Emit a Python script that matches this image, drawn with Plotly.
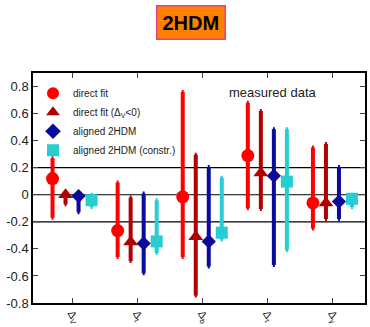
import plotly.graph_objects as go

categories = ["Δ<sub>V</sub>", "Δ<sub>t</sub>", "Δ<sub>b</sub>", "Δ<sub>τ</sub>", "Δ<sub>γ</sub>"]

series_names = ["direct fit", "direct fit (Δ<sub>V</sub><0)", "aligned 2HDM", "aligned 2HDM (constr.)"]

direct_val = [0.12, -0.265, -0.015, 0.29, -0.06]
direct_hi = [0.27, 0.09, 0.76, 0.68, 0.35]
direct_lo = [-0.17, -0.46, -0.46, -0.10, -0.25]

neg_val = [0.0, -0.35, -0.31, 0.16, -0.06]
neg_hi = [0.02, -0.02, 0.295, 0.62, 0.375]
neg_lo = [-0.07, -0.49, -0.745, -0.105, -0.18]

aligned_val = [-0.01, -0.36, -0.345, 0.14, -0.05]
aligned_hi = [0.0, 0.01, 0.205, 0.485, 0.205]
aligned_lo = [-0.13, -0.58, -0.53, -0.52, -0.18]

constr_val = [-0.04, -0.345, -0.28, 0.097, -0.03]
constr_hi = [0.0, -0.04, 0.125, 0.485, 0.0]
constr_lo = [-0.09, -0.43, -0.33, -0.41, -0.09]

colors = ["#ff0000", "#b00000", "#0a0a9e", "#28cdd2"]
symbols = ["circle", "triangle-up", "diamond", "square"]
sizes = [13, 13, 11, 12]
offsets = [-0.3, -0.1, 0.1, 0.3]

data = [
    (direct_val, direct_hi, direct_lo),
    (neg_val, neg_hi, neg_lo),
    (aligned_val, aligned_hi, aligned_lo),
    (constr_val, constr_hi, constr_lo),
]

fig = go.Figure()
for i, (vals, his, los) in enumerate(data):
    xs = [j + offsets[i] for j in range(len(categories))]
    fig.add_trace(go.Scatter(
        x=xs, y=vals, mode="markers", name=series_names[i],
        marker=dict(symbol=symbols[i], size=sizes[i], color=colors[i], line=dict(width=0)),
        error_y=dict(type="data", symmetric=False,
                     array=[h - v for h, v in zip(his, vals)],
                     arrayminus=[v - l for l, v in zip(los, vals)],
                     color=colors[i], thickness=4, width=1),
    ))

for yv in [0.2, 0.0, -0.2]:
    fig.add_hline(y=yv, line=dict(color="black", width=1.2), layer="below")

ytick_vals = [0.8, 0.6, 0.4, 0.2, 0, -0.2, -0.4, -0.6, -0.8]
ytick_text = ["0.8", "0.6", "0.4", "0.2", "0", "-0.2", "-0.4", "-0.6", "-0.8"]

fig.update_layout(
    width=370, height=327,
    margin=dict(l=33, r=5, t=73, b=24),
    paper_bgcolor="white", plot_bgcolor="white",
    font=dict(family="Liberation Sans, Arial, sans-serif", color="#222"),
    showlegend=True,
    legend=dict(x=0.0, y=0.975, xanchor="left", yanchor="top",
                bgcolor="rgba(0,0,0,0)", font=dict(size=10), tracegroupgap=0,
                itemsizing="constant"),
    xaxis=dict(range=[-0.6, 4.5], tickvals=list(range(len(categories))), ticktext=categories,
               tickangle=60, ticks="inside", ticklen=5, showline=True, linecolor="black",
               linewidth=1.5, mirror="ticks", showgrid=False, zeroline=False,
               tickfont=dict(size=11), ticklabelstandoff=-2, automargin=False),
    yaxis=dict(range=[-0.8, 0.9], tickvals=ytick_vals, ticktext=ytick_text,
               ticks="inside", ticklen=5, showline=True, linecolor="black",
               linewidth=1.5, mirror="ticks", showgrid=False, zeroline=False,
               tickfont=dict(size=13), automargin=False),
    annotations=[
        dict(text="measured data", x=0.72, y=0.915, xref="paper", yref="paper",
             xanchor="center", yanchor="middle",
             showarrow=False, font=dict(size=13, color="#222")),
        dict(text="<b>2HDM</b>", x=0.475, y=1.22, xref="paper", yref="paper",
             xanchor="center", yanchor="middle",
             showarrow=False, font=dict(size=20, color="black"),
             bgcolor="#ff8000", bordercolor="#e0408a", borderwidth=1.5, borderpad=5),
    ],
)

fig.write_html("out.html", config={"displayModeBar": False},
               post_script="document.body.style.margin='0';")
